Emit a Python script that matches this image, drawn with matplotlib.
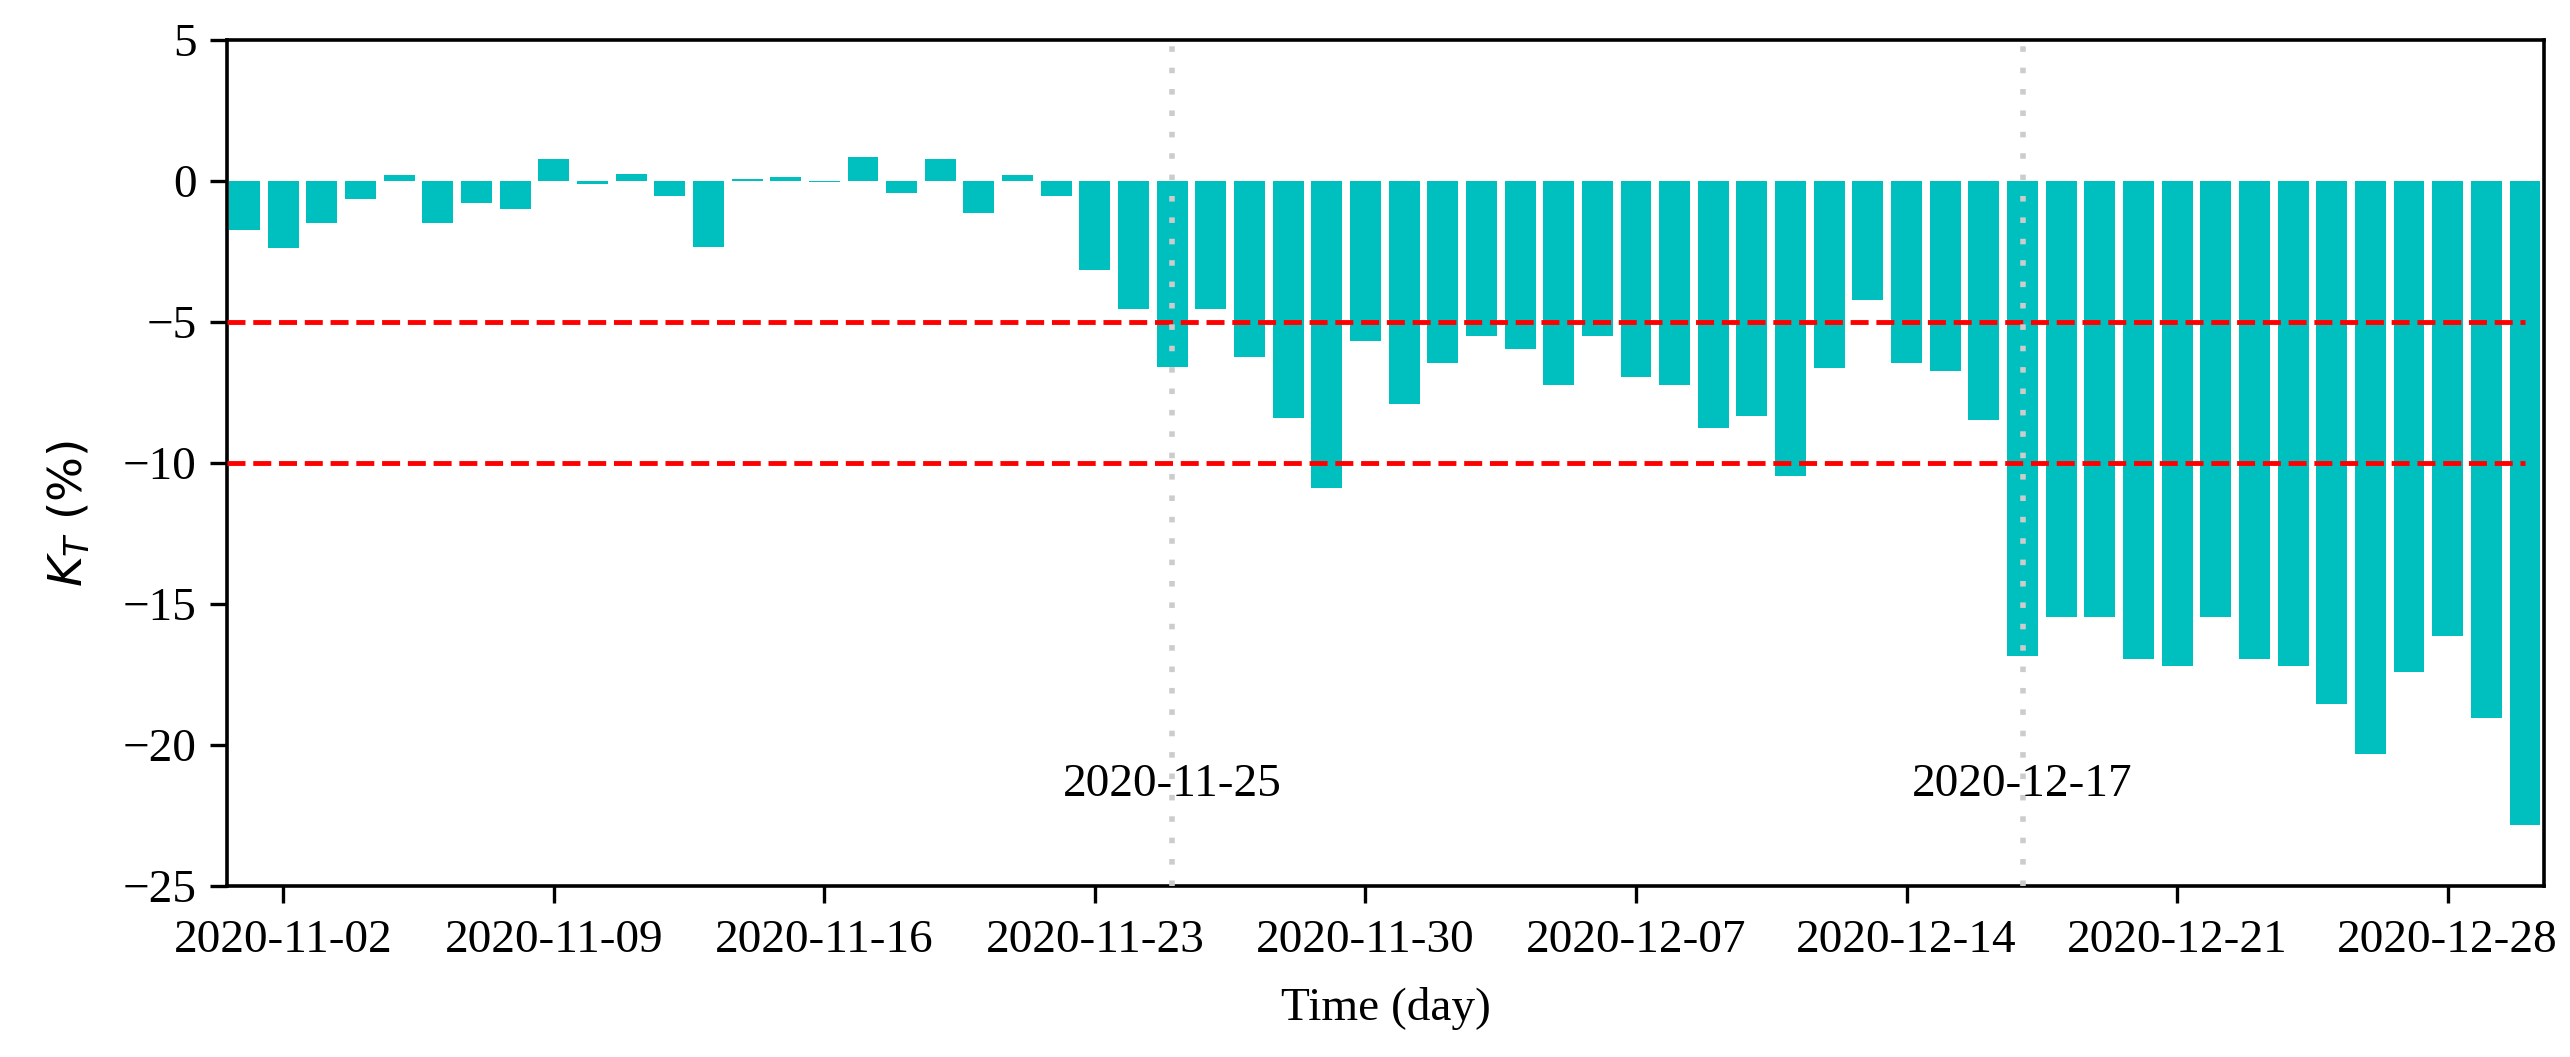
import matplotlib
matplotlib.use("Agg")
import matplotlib.pyplot as plt
import matplotlib.dates as mdates
import pandas as pd
import numpy as np

start_date = "2020-11-01"
end_date = "2020-12-30"
kt_values = [
    -1.74, -2.36, -1.48, -0.63, 0.21, -1.47, -0.76, -1.00, 0.78, -0.12,
    0.24, -0.52, -2.34, 0.07, 0.14, -0.02, 0.84, -0.42, 0.78, -1.12,
    0.23, -0.53, -3.17, -4.54, -6.61, -4.54, -6.24, -8.39, -10.90, -5.67,
    -7.90, -6.47, -5.48, -5.97, -7.25, -5.48, -6.96, -7.25, -8.75, -8.35,
    -10.48, -6.63, -4.21, -6.47, -6.75, -8.49, -16.84, -15.48, -15.48, -16.95,
    -17.20, -15.48, -16.95, -17.20, -18.55, -20.34, -17.43, -16.15, -19.04, -22.85,
]
thresholds = [-5, -10]
event_dates = ["2020-11-25", "2020-12-17"]
event_label_y = -21.4
yticks = [5, 0, -5, -10, -15, -20, -25]

dates = pd.date_range(start_date, end_date, freq="D")
x = mdates.date2num(dates.to_pydatetime())

fig = plt.figure(figsize=(25.70, 10.57), dpi=100)
ax = fig.add_axes([0.0884, 0.162, 0.9016, 0.800])

serif = "Liberation Serif"
fs = 34

x_left = x[0] - 0.45
x_right = x[-1] + 0.5

ax.bar(x, kt_values, width=0.8, color="c", zorder=2)

for t in thresholds:
    ax.hlines(t, x_left, x[-1], colors="red", linestyles="--", linewidth=3.5, zorder=3)

for d in event_dates:
    xd = mdates.date2num(pd.Timestamp(d).to_pydatetime())
    ax.axvline(xd, color="#cccccc", linestyle=(0, (1.0, 2.85)), linewidth=4.0, zorder=4)
    ax.text(xd, event_label_y, d, ha="center", va="center", fontsize=fs, family=serif, zorder=5)

ax.set_xlim(x_left, x_right)
ax.set_ylim(-25, 5)
ax.set_yticks(yticks)

ax.xaxis.set_major_locator(mdates.WeekdayLocator(byweekday=mdates.MO))
ax.xaxis.set_major_formatter(mdates.DateFormatter("%Y-%m-%d"))

for lab in ax.get_xticklabels() + ax.get_yticklabels():
    lab.set_family(serif)
    lab.set_fontsize(fs)

ax.tick_params(axis="both", direction="out", length=12, width=2.4)
ax.tick_params(axis="x", pad=12)
ax.tick_params(axis="y", pad=10)
for sp in ax.spines.values():
    sp.set_linewidth(2.6)

ax.set_xlabel("Time (day)", fontsize=fs, family=serif, labelpad=18)
ax.set_ylabel(r"$K_T$ (%)", fontsize=34, family="DejaVu Sans")
ax.yaxis.set_label_coords(-0.058, 0.44)

fig.savefig("out.png", dpi=100)
